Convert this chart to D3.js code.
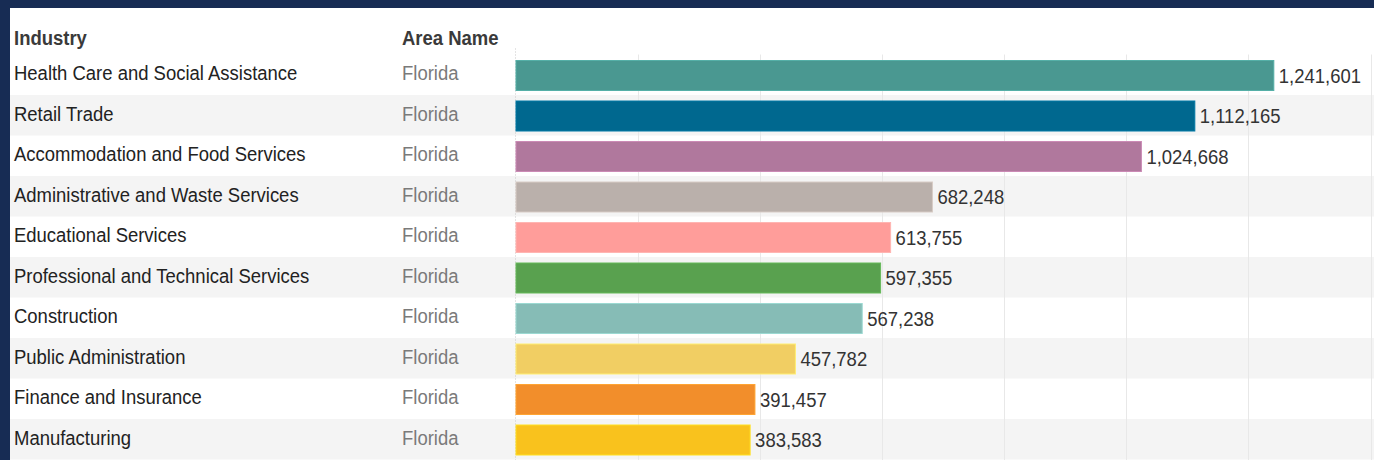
<!DOCTYPE html>
<html>
<head>
<meta charset="utf-8">
<script src="https://cdn.jsdelivr.net/npm/d3@7/dist/d3.min.js"></script>
<style>
  html, body { margin: 0; padding: 0; background: #172c54; }
  svg { display: block; }
  text { font-family: "Liberation Sans", Arial, sans-serif; }
</style>
</head>
<body>
<svg id="chart" width="1374" height="460"></svg>
<script>
// industries, largest first
let industries = [
  "Health Care and Social Assistance",
  "Retail Trade",
  "Accommodation and Food Services",
  "Administrative and Waste Services",
  "Educational Services",
  "Professional and Technical Services",
  "Construction",
  "Public Administration",
  "Finance and Insurance",
  "Manufacturing"
];
let areas = ["Florida", "Florida", "Florida", "Florida", "Florida",
  "Florida", "Florida", "Florida", "Florida", "Florida"];
let employment = [1241601, 1112165, 1024668, 682248, 613755,
  597355, 567238, 457782, 391457, 383583];
let bar_colors = ["#4a9891", "#00688f", "#b0789d", "#bab0ab", "#ff9d9a",
  "#59a14f", "#86bcb6", "#f1ce63", "#f28e2b", "#f9c21d"];
let grid_ticks = [0, 200000, 400000, 600000, 800000, 1000000, 1200000, 1400000];

let svg = d3.select("#chart");
let narrow = 0.88; // no narrow font installed, so squeeze text horizontally

// place a text at (x, y) but squeezed horizontally
function squeeze(sel, fx, fy) {
  sel.attr("transform", (d, i) => "translate(" + fx(d, i) + "," + fy(d, i) + ") scale(" + narrow + ",1)")
    .attr("x", 0).attr("y", 0);
}

// white panel on the navy page
svg.append("rect")
  .attr("x", 10).attr("y", 8)
  .attr("width", 1364).attr("height", 452)
  .attr("fill", "#ffffff");

let row_top = 54.5, row_h = 40.5;
let y = d3.scaleBand()
  .domain(d3.range(industries.length))
  .range([row_top, row_top + row_h * industries.length]);
let x = d3.scaleLinear()
  .domain([0, 1400000])
  .range([516, 1370.5]);

// zebra banding
svg.append("g").selectAll("rect")
  .data(d3.range(industries.length).filter(i => i % 2 == 1))
  .join("rect")
  .attr("x", 10).attr("width", 1364)
  .attr("y", i => y(i)).attr("height", y.bandwidth())
  .attr("fill", "#f4f4f4");

// vertical gridlines
svg.append("g").selectAll("line")
  .data(grid_ticks.slice(1))
  .join("line")
  .attr("x1", d => Math.round(x(d)) + 0.5).attr("x2", d => Math.round(x(d)) + 0.5)
  .attr("y1", row_top).attr("y2", 460)
  .attr("stroke", "#e8e8e8").attr("stroke-width", 1);

// zero axis
svg.append("line")
  .attr("x1", x(0) - 0.5).attr("x2", x(0) - 0.5)
  .attr("y1", row_top - 6).attr("y2", 460)
  .attr("stroke", "#c8c8c8").attr("stroke-dasharray", "1,2");

// headers
svg.append("text")
  .attr("font-size", 21).attr("font-weight", "bold").attr("fill", "#3a3a3a")
  .text("Industry")
  .call(squeeze, () => 14, () => 45);
svg.append("text")
  .attr("font-size", 21).attr("font-weight", "bold").attr("fill", "#3a3a3a")
  .text("Area Name")
  .call(squeeze, () => 402, () => 45);

let rows = svg.append("g").selectAll("g")
  .data(d3.range(industries.length))
  .join("g");

rows.append("text")
  .attr("font-size", 21).attr("fill", "#222")
  .text(i => industries[i])
  .call(squeeze, () => 14, i => y(i) + 25.5);

rows.append("text")
  .attr("font-size", 21).attr("fill", "#7a7a7a")
  .text(i => areas[i])
  .call(squeeze, () => 402, i => y(i) + 25.5);

rows.append("rect")
  .attr("x", x(0)).attr("y", i => y(i) + 6)
  .attr("width", i => x(employment[i]) - x(0))
  .attr("height", 30)
  .attr("fill", i => bar_colors[i])
  .attr("stroke", i => d3.color(bar_colors[i]).brighter(0.4))
  .attr("stroke-width", 1);

rows.append("text")
  .attr("font-size", 21).attr("fill", "#333")
  .text(i => d3.format(",")(employment[i]))
  .call(squeeze, i => x(employment[i]) + 5, i => y(i) + 28);
</script>
</body>
</html>
